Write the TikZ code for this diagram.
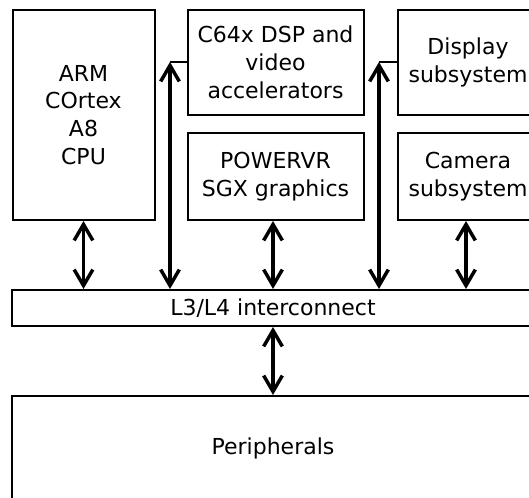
\documentclass[tikz,border=0pt]{standalone}
\usepackage{fontspec}
\setmainfont{DejaVu Sans}
\usetikzlibrary{arrows.meta}

\tikzset{every picture/.style={line width=1.5pt}}
\tikzset{
  blockbox/.style={draw,rectangle,inner sep=0pt,align=center,font=\fontsize{16.5}{20.8}\selectfont},
  bus/.style={line width=2.6pt,{Straight Barb[length=12pt,width=14pt,line width=2.6pt]}-{Straight Barb[length=12pt,width=14pt,line width=2.6pt]}},
  tap/.style={line width=1.8pt}
}

\begin{document}
\begin{tikzpicture}[x=0.75pt,y=0.75pt,yscale=-1,xscale=1]
\useasboundingbox (0,0) rectangle (529,498);
\clip (0,0) rectangle (529,498);

% Blocks
\node [blockbox,minimum width=106.5pt,minimum height=157.5pt] (arm) at (83.5,115) {ARM\\COrtex\\A8\\CPU};
\node [blockbox,minimum width=132pt,minimum height=78.75pt] (dsp) at (275.5,62.5) {C64x DSP and\\video\\accelerators};
\node [blockbox,minimum width=132pt,minimum height=65.25pt] (gpu) at (275.5,176.5) {POWERVR\\SGX graphics};
\node [blockbox,minimum width=105pt,minimum height=78.75pt] (disp) at (468,62.5) {Display\\subsystem};
\node [blockbox,minimum width=105pt,minimum height=65.25pt] (cam) at (468,176.5) {Camera\\subsystem};
\node [blockbox,minimum width=391.5pt,minimum height=27pt] (ic) at (273,308) {L3/L4 interconnect};
\node [blockbox,minimum width=391.5pt,minimum height=78pt] (per) at (273,448) {Peripherals};

% Corners of the two bus taps
\coordinate (dspc) at (170,62);
\coordinate (dispc) at (379,62);

% Links
\draw [bus] (arm.south) -- (arm.south |- ic.north);
\draw [bus] (gpu.south -| ic.north) -- (ic.north);
\draw [bus] (cam.south -| 466,0) -- (ic.north -| 466,0);
\draw [bus] (ic.north -| dspc) -- (dspc);
\draw [tap] (dspc) -- (dsp.west |- dspc);
\draw [bus] (ic.north -| dispc) -- (dispc);
\draw [tap] (dispc) -- (disp.west |- dispc);
\draw [bus] (ic.south) -- (per.north);

\end{tikzpicture}
\end{document}
